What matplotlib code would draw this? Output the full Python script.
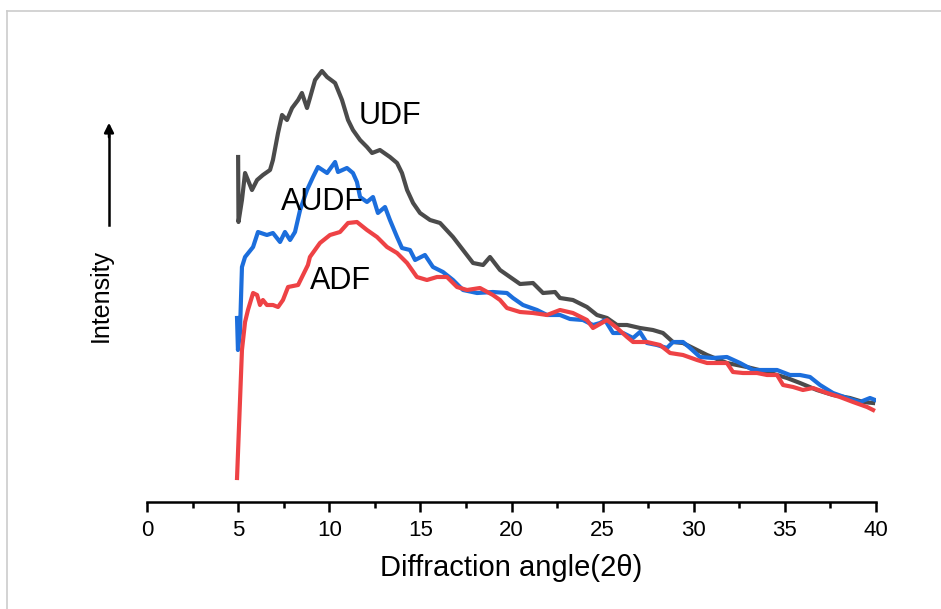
import numpy as np
import matplotlib.pyplot as plt
from matplotlib.lines import Line2D

plt.rcParams['font.family'] = ['Liberation Sans', 'DejaVu Sans']

# XRD patterns, 2theta (deg) vs intensity (a.u.)
udf_2theta = [5.00, 5.02, 5.21, 5.38, 5.76, 6.04, 6.36, 6.75, 6.91, 7.19, 7.41, 7.68,
              7.96, 8.29, 8.50, 8.78, 8.94, 9.22, 9.60, 9.88, 10.32, 10.70, 11.03,
              11.30, 11.69, 12.07, 12.35, 12.78, 13.33, 13.72, 13.99, 14.27, 14.60,
              14.98, 15.53, 16.08, 16.79, 17.34, 17.89, 18.44, 18.82, 19.37, 19.92,
              20.47, 21.18, 21.73, 22.39, 22.66, 23.37, 24.14, 24.69, 25.24, 25.79,
              26.34, 27.05, 27.76, 28.31, 28.86, 29.41, 29.96, 30.73, 31.82, 32.92,
              34.02, 35.12, 35.83, 36.76, 37.64, 38.57, 39.29, 39.84]
udf_int = [345, 280, 302, 329, 312, 322, 327, 332, 342, 369, 387, 382,
           394, 402, 409, 394, 404, 422, 431, 425, 419, 402, 382,
           372, 362, 355, 349, 352, 345, 339, 329, 312, 299,
           289, 282, 279, 265, 252, 239, 237, 245, 232, 225,
           218, 219, 209, 210, 204, 202, 195, 187, 184, 177,
           177, 174, 172, 169, 160, 159, 154, 147, 139, 135,
           130, 124, 119, 112, 107, 104, 100, 99]

audf_2theta = [4.94, 4.99, 5.10, 5.21, 5.38, 5.82, 6.09, 6.58, 6.91, 7.30, 7.57, 7.85,
               8.12, 8.40, 8.78, 9.11, 9.38, 9.88, 10.32, 10.48, 10.97, 11.30, 11.52,
               11.69, 12.07, 12.40, 12.67, 13.06, 13.33, 13.72, 13.99, 14.43, 14.71,
               15.25, 15.69, 16.24, 16.79, 17.34, 18.11, 18.98, 19.75, 20.08, 20.63,
               21.40, 21.95, 22.66, 23.21, 23.92, 24.47, 24.86, 25.13, 25.57, 26.12,
               26.67, 27.05, 27.43, 27.98, 28.53, 28.86, 29.41, 29.80, 30.34, 31.06,
               31.82, 32.54, 33.25, 34.02, 34.57, 35.28, 35.83, 36.38, 36.93, 37.64,
               38.41, 39.12, 39.67, 39.95]
audf_int = [184, 152, 169, 235, 245, 255, 270, 267, 269, 260, 270, 262,
            270, 292, 312, 325, 335, 329, 340, 330, 334, 329, 320,
            305, 300, 305, 289, 295, 282, 265, 254, 252, 242,
            247, 235, 230, 222, 212, 209, 210, 209, 204, 197,
            192, 187, 187, 183, 182, 177, 179, 182, 169, 169,
            164, 170, 159, 157, 154, 160, 160, 154, 145, 144,
            145, 139, 132, 132, 132, 127, 127, 125, 117, 109,
            104, 100, 104, 102]

adf_2theta = [4.94, 5.21, 5.38, 5.54, 5.82, 6.04, 6.20, 6.36, 6.58, 6.91, 7.19, 7.46,
              7.74, 8.29, 8.56, 8.83, 8.94, 9.49, 10.04, 10.59, 11.03, 11.52, 12.07,
              12.62, 13.17, 13.72, 14.27, 14.81, 15.36, 15.91, 16.46, 17.01, 17.56,
              18.27, 18.98, 19.37, 19.75, 20.47, 21.18, 21.95, 22.66, 23.37, 24.14,
              24.47, 25.24, 25.79, 26.34, 26.67, 27.43, 28.15, 28.70, 29.41, 30.18,
              30.73, 31.28, 31.82, 32.15, 32.70, 33.47, 34.02, 34.57, 34.90, 35.45,
              35.99, 36.54, 37.31, 38.02, 38.74, 39.51, 39.84]
adf_int = [24, 152, 180, 192, 209, 207, 197, 202, 197, 197, 195, 202,
           215, 217, 227, 237, 245, 259, 267, 270, 279, 280, 272,
           265, 255, 249, 239, 225, 222, 225, 225, 215, 212,
           214, 207, 202, 194, 190, 189, 187, 192, 189, 182,
           174, 182, 174, 165, 160, 160, 157, 149, 147, 142,
           139, 139, 139, 130, 129, 129, 127, 127, 117, 115,
           112, 114, 109, 105, 100, 95, 92]

fig = plt.figure(figsize=(9.41, 6.09), dpi=100)
ax = fig.add_axes([147 / 941, 107 / 609, 729 / 941, 480 / 609])

ax.plot(udf_2theta, udf_int, color='#4b4b4b', lw=3)
ax.plot(audf_2theta, audf_int, color='#1c6edc', lw=3)
ax.plot(adf_2theta, adf_int, color='#ee4245', lw=3)

ax.text(13.33, 386, 'UDF', fontsize=22, ha='center', va='center')
ax.text(9.60, 300, 'AUDF', fontsize=22, ha='center', va='center')
ax.text(10.64, 221, 'ADF', fontsize=22, ha='center', va='center')

ax.set_xlim(0, 40)
ax.set_ylim(0, 480)
for s in ['left', 'right', 'top']:
    ax.spines[s].set_visible(False)
ax.spines['bottom'].set_linewidth(1.8)
ax.set_yticks([])
ax.set_xticks(np.arange(0, 41, 5))
ax.set_xticks(np.arange(2.5, 40, 5), minor=True)
ax.tick_params(axis='x', which='major', length=7, width=1.8, labelsize=16, pad=6)
ax.tick_params(axis='x', which='minor', length=4, width=1.8)
ax.set_xlabel('Diffraction angle(2\u03b8)', fontsize=21, labelpad=9)

# intensity arrow and label on the left
fig.add_artist(Line2D([109 / 941, 109 / 941], [1 - 225 / 609, 1 - 135 / 609],
                      color='black', lw=1.8))
ax.annotate('', xy=(109 / 941, 1 - 120 / 609), xytext=(109 / 941, 1 - 140 / 609),
            xycoords='figure fraction',
            arrowprops=dict(arrowstyle='-|>', color='black', lw=1.8, mutation_scale=14))
fig.text(101 / 941, 1 - 295 / 609, 'Intensity', rotation=90, fontsize=18,
         ha='center', va='center')

# thin frame at top and left
fig.add_artist(Line2D([7 / 941, 1], [1 - 11 / 609, 1 - 11 / 609], color='#cccccc', lw=1.2))
fig.add_artist(Line2D([7 / 941, 7 / 941], [0, 1 - 11 / 609], color='#cccccc', lw=1.2))

fig.savefig('out.png', dpi=100)
